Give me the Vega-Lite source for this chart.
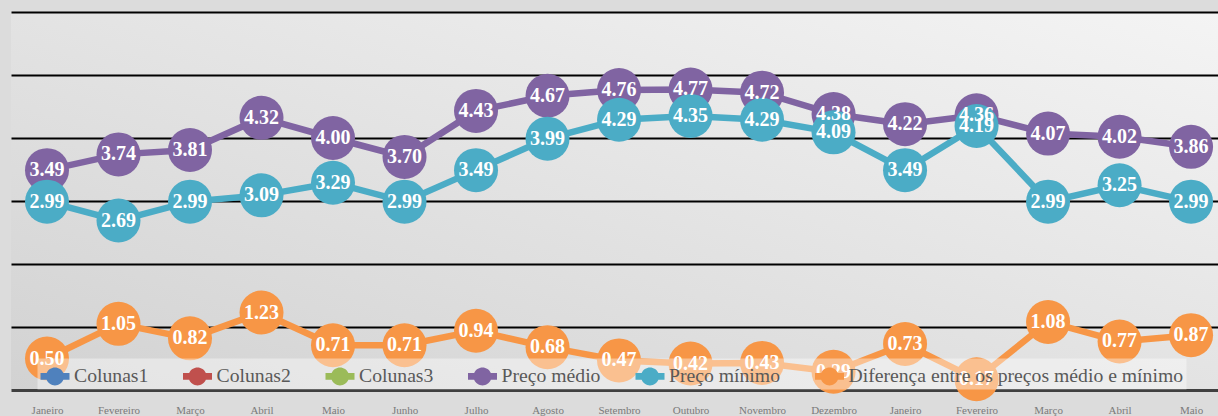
{
  "$schema": "https://vega.github.io/schema/vega-lite/v6.json",
  "width": 1207,
  "height": 378,
  "autosize": {"type": "none"},
  "padding": {"left": 11, "top": 12, "right": 0, "bottom": 26},
  "background": "#dcdcdc",
  "view": {
    "stroke": null,
    "fill": {
      "gradient": "linear",
      "x1": 1, "y1": 0, "x2": 0, "y2": 1,
      "stops": [
        {"offset": 0, "color": "#f4f4f4"},
        {"offset": 1, "color": "#d2d2d2"}
      ]
    }
  },
  "data": {
    "values": [
      {"i": 1, "serie": "Preço médio", "valor": 3.49},
      {"i": 2, "serie": "Preço médio", "valor": 3.74},
      {"i": 3, "serie": "Preço médio", "valor": 3.81},
      {"i": 4, "serie": "Preço médio", "valor": 4.32},
      {"i": 5, "serie": "Preço médio", "valor": 4.00},
      {"i": 6, "serie": "Preço médio", "valor": 3.70},
      {"i": 7, "serie": "Preço médio", "valor": 4.43},
      {"i": 8, "serie": "Preço médio", "valor": 4.67},
      {"i": 9, "serie": "Preço médio", "valor": 4.76},
      {"i": 10, "serie": "Preço médio", "valor": 4.77},
      {"i": 11, "serie": "Preço médio", "valor": 4.72},
      {"i": 12, "serie": "Preço médio", "valor": 4.38},
      {"i": 13, "serie": "Preço médio", "valor": 4.22},
      {"i": 14, "serie": "Preço médio", "valor": 4.36},
      {"i": 15, "serie": "Preço médio", "valor": 4.07},
      {"i": 16, "serie": "Preço médio", "valor": 4.02},
      {"i": 17, "serie": "Preço médio", "valor": 3.86},
      {"i": 1, "serie": "Preço mínimo", "valor": 2.99},
      {"i": 2, "serie": "Preço mínimo", "valor": 2.69},
      {"i": 3, "serie": "Preço mínimo", "valor": 2.99},
      {"i": 4, "serie": "Preço mínimo", "valor": 3.09},
      {"i": 5, "serie": "Preço mínimo", "valor": 3.29},
      {"i": 6, "serie": "Preço mínimo", "valor": 2.99},
      {"i": 7, "serie": "Preço mínimo", "valor": 3.49},
      {"i": 8, "serie": "Preço mínimo", "valor": 3.99},
      {"i": 9, "serie": "Preço mínimo", "valor": 4.29},
      {"i": 10, "serie": "Preço mínimo", "valor": 4.35},
      {"i": 11, "serie": "Preço mínimo", "valor": 4.29},
      {"i": 12, "serie": "Preço mínimo", "valor": 4.09},
      {"i": 13, "serie": "Preço mínimo", "valor": 3.49},
      {"i": 14, "serie": "Preço mínimo", "valor": 4.19},
      {"i": 15, "serie": "Preço mínimo", "valor": 2.99},
      {"i": 16, "serie": "Preço mínimo", "valor": 3.25},
      {"i": 17, "serie": "Preço mínimo", "valor": 2.99},
      {"i": 1, "serie": "Diferença entre os preços médio e mínimo", "valor": 0.50},
      {"i": 2, "serie": "Diferença entre os preços médio e mínimo", "valor": 1.05},
      {"i": 3, "serie": "Diferença entre os preços médio e mínimo", "valor": 0.82},
      {"i": 4, "serie": "Diferença entre os preços médio e mínimo", "valor": 1.23},
      {"i": 5, "serie": "Diferença entre os preços médio e mínimo", "valor": 0.71},
      {"i": 6, "serie": "Diferença entre os preços médio e mínimo", "valor": 0.71},
      {"i": 7, "serie": "Diferença entre os preços médio e mínimo", "valor": 0.94},
      {"i": 8, "serie": "Diferença entre os preços médio e mínimo", "valor": 0.68},
      {"i": 9, "serie": "Diferença entre os preços médio e mínimo", "valor": 0.47},
      {"i": 10, "serie": "Diferença entre os preços médio e mínimo", "valor": 0.42},
      {"i": 11, "serie": "Diferença entre os preços médio e mínimo", "valor": 0.43},
      {"i": 12, "serie": "Diferença entre os preços médio e mínimo", "valor": 0.29},
      {"i": 13, "serie": "Diferença entre os preços médio e mínimo", "valor": 0.73},
      {"i": 14, "serie": "Diferença entre os preços médio e mínimo", "valor": 0.17},
      {"i": 15, "serie": "Diferença entre os preços médio e mínimo", "valor": 1.08},
      {"i": 16, "serie": "Diferença entre os preços médio e mínimo", "valor": 0.77},
      {"i": 17, "serie": "Diferença entre os preços médio e mínimo", "valor": 0.87}
    ]
  },
  "encoding": {
    "x": {
      "field": "i",
      "type": "ordinal",
      "scale": {"type": "point", "padding": 0.44, "align": 0.572},
      "axis": {
        "title": null,
        "labelAngle": 0,
        "ticks": false,
        "grid": false,
        "domain": true,
        "domainColor": "#404040",
        "domainWidth": 3,
        "labelFont": "Liberation Serif",
        "labelFontSize": 11,
        "labelColor": "#7a7a7a",
        "labelPadding": 14,
        "labelExpr": "['Janeiro','Fevereiro','Março','Abril','Maio','Junho','Julho','Agosto','Setembro','Outubro','Novembro','Dezembro','Janeiro','Fevereiro','Março','Abril','Maio'][datum.value - 1]"
      }
    },
    "y": {
      "field": "valor",
      "type": "quantitative",
      "scale": {"domain": [0, 6], "nice": false},
      "axis": {
        "title": null,
        "labels": false,
        "ticks": false,
        "domain": false,
        "values": [1, 2, 3, 4, 5, 6],
        "grid": true,
        "gridColor": "#000000",
        "gridWidth": 2,
        "gridOpacity": 1
      }
    },
    "color": {
      "field": "serie",
      "type": "nominal",
      "scale": {
        "domain": ["Colunas1", "Colunas2", "Colunas3", "Preço médio", "Preço mínimo", "Diferença entre os preços médio e mínimo"],
        "range": ["#4F81BD", "#C0504D", "#9BBB59", "#8064A2", "#4BACC6", "#F79646"]
      },
      "legend": {
        "title": null,
        "orient": "none",
        "direction": "horizontal",
        "legendX": 26.5,
        "legendY": 346.5,
        "padding": 3,
        "fillColor": "rgba(255,255,255,0.4)",
        "symbolType": "M-1,-0.23H-0.576A0.62,0.62 0 0 1 0.576,-0.23H1V0.23H0.576A0.62,0.62 0 0 1 -0.576,0.23H-1Z",
        "symbolSize": 841,
        "symbolStrokeWidth": 0,
        "symbolOpacity": 1,
        "labelFont": "Liberation Serif",
        "labelFontSize": 19.7,
        "labelColor": "#595959",
        "labelOffset": 4.5,
        "labelLimit": 0,
        "columnPadding": 34.5,
        "encode": {
          "symbols": {
            "update": {
              "fill": {"scale": "color", "field": "value"},
              "stroke": {"value": "transparent"},
              "opacity": {"value": 1}
            }
          }
        }
      }
    }
  },
  "layer": [
    {"mark": {"type": "line", "strokeWidth": 6.5}},
    {"mark": {"type": "circle", "size": 1936, "opacity": 1}},
    {
      "mark": {"type": "text", "font": "Liberation Serif", "fontWeight": "bold", "fontSize": 20, "baseline": "middle", "align": "center"},
      "encoding": {
        "text": {"field": "valor", "type": "quantitative", "format": ".2f"},
        "color": {"value": "#ffffff"}
      }
    }
  ]
}
